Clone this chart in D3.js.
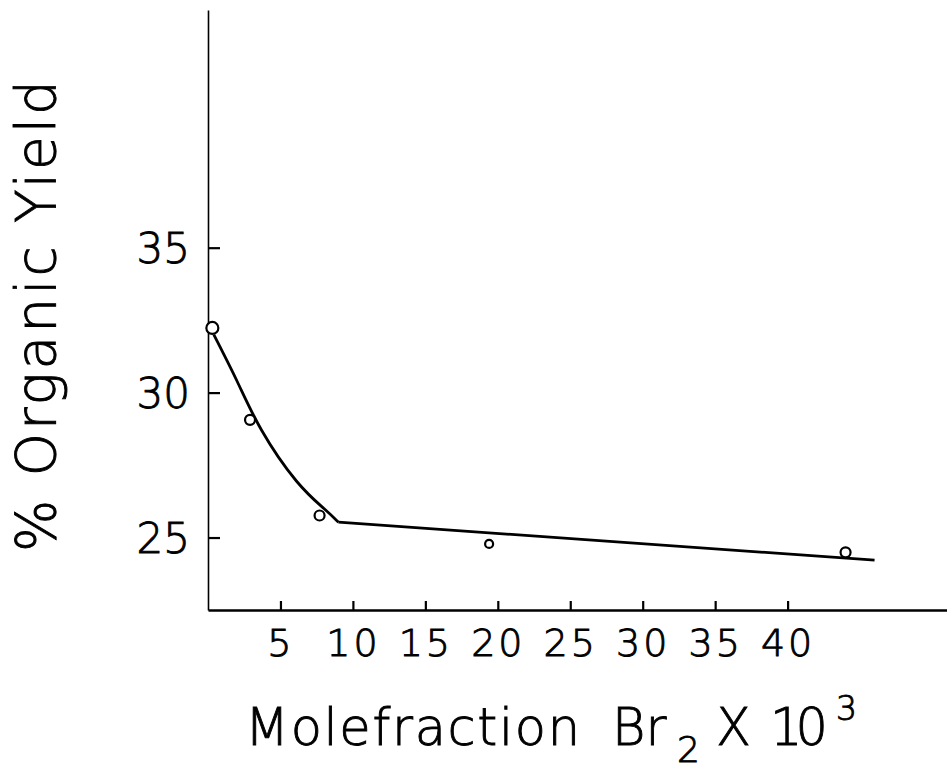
<!DOCTYPE html>
<html>
<head>
<meta charset="utf-8">
<script src="https://cdn.jsdelivr.net/npm/d3@7/dist/d3.min.js"></script>
<style>
  body { margin: 0; background: #fff; }
  svg { display: block; }
  text { font-family: "DejaVu Sans", sans-serif; font-weight: 200; fill: #000; stroke: #000; stroke-width: 0.9px; }
</style>
</head>
<body>
<div id="chart"></div>
<script>
// measured points (mole fraction Br2 x 10^3, % organic yield)
var pointX = [0.3, 2.9, 7.7, 19.4, 44.0];
var pointY = [32.23, 29.06, 25.76, 24.78, 24.49];
var pointR = [6, 5, 5, 4, 5];

// hand-drawn curve
var curveX = [0.4, 2.0, 3.7, 6.1, 8.0, 9.0];
var curveY = [32.0, 30.4, 28.7, 26.95, 26.0, 25.53];
// straight part after the break
var lineX = [9.0, 46.0];
var lineY = [25.53, 24.22];

var xTicks = [5, 10, 15, 20, 25, 30, 35, 40];
var yTicks = [25, 30, 35];

var width = 947,
    height = 770;

var svg = d3.select('#chart').append('svg')
    .attr('width', width)
    .attr('height', height);

var x = d3.scaleLinear().domain([0, 51]).range([208, 947]);
var y = d3.scaleLinear().domain([22.5, 43.2]).range([610, 10]);

// x axis, ticks pointing up
var gx = svg.append('g')
    .attr('transform', 'translate(0,' + y(22.5) + ')')
    .call(d3.axisBottom(x).tickValues(xTicks).tickSizeInner(-9).tickSizeOuter(0));
gx.select('.domain').attr('stroke-width', 2.5);
gx.selectAll('.tick line').attr('stroke-width', 2.2);
gx.selectAll('.tick text')
    .attr('y', 46).attr('dy', 0)
    .attr('letter-spacing', 3)
    .style('font-size', '38px')
    .style('font-family', '"DejaVu Sans", sans-serif')
    .style('font-weight', 200);

// y axis, ticks pointing right
var gy = svg.append('g')
    .attr('transform', 'translate(' + x(0) + ',0)')
    .call(d3.axisLeft(y).tickValues(yTicks).tickSizeInner(-12).tickSizeOuter(0));
gy.select('.domain').attr('stroke-width', 1.6);
gy.selectAll('.tick line').attr('stroke-width', 2.2);
gy.selectAll('.tick text')
    .attr('x', -18).attr('dy', '0.36em')
    .style('font-size', '42px')
    .style('font-family', '"DejaVu Sans", sans-serif')
    .style('font-weight', 200);

var line = d3.line()
    .x(function(d) { return x(d[0]); })
    .y(function(d) { return y(d[1]); });

// curve
svg.append('path')
    .datum(d3.zip(curveX, curveY))
    .attr('fill', 'none')
    .attr('stroke', '#000')
    .attr('stroke-width', 2.8)
    .attr('d', line.curve(d3.curveNatural));

svg.append('path')
    .datum(d3.zip(lineX, lineY))
    .attr('fill', 'none')
    .attr('stroke', '#000')
    .attr('stroke-width', 2.8)
    .attr('d', line.curve(d3.curveLinear));

// data points
svg.selectAll('circle.pt')
    .data(d3.range(pointX.length))
    .enter()
    .append('circle')
    .attr('class', 'pt')
    .attr('cx', function(i) { return x(pointX[i]); })
    .attr('cy', function(i) { return y(pointY[i]); })
    .attr('r', function(i) { return pointR[i]; })
    .attr('fill', '#fff')
    .attr('stroke', '#000')
    .attr('stroke-width', 2.2);

// y title
svg.append('text')
    .attr('transform', 'translate(55,552) rotate(-90)')
    .attr('textLength', 472)
    .attr('lengthAdjust', 'spacing')
    .style('font-size', '55px')
    .text('% Organic Yield');

// x title, pieces placed like the lettering
var xt = svg.append('g').style('font-size', '51px');
xt.append('text').attr('x', 245).attr('y', 745)
    .attr('textLength', 335).attr('lengthAdjust', 'spacing')
    .text('Molefraction');
xt.append('text').attr('x', 612).attr('y', 745)
    .text('Br');
xt.append('text').attr('x', 677).attr('y', 762)
    .style('font-size', '36px')
    .text('2');
xt.append('text').attr('x', 716).attr('y', 745)
    .text('X');
xt.append('text').attr('x', 770).attr('y', 745)
    .attr('textLength', 58).attr('lengthAdjust', 'spacing')
    .text('10');
xt.append('text').attr('x', 836).attr('y', 720)
    .style('font-size', '33px')
    .text('3');
</script>
</body>
</html>
